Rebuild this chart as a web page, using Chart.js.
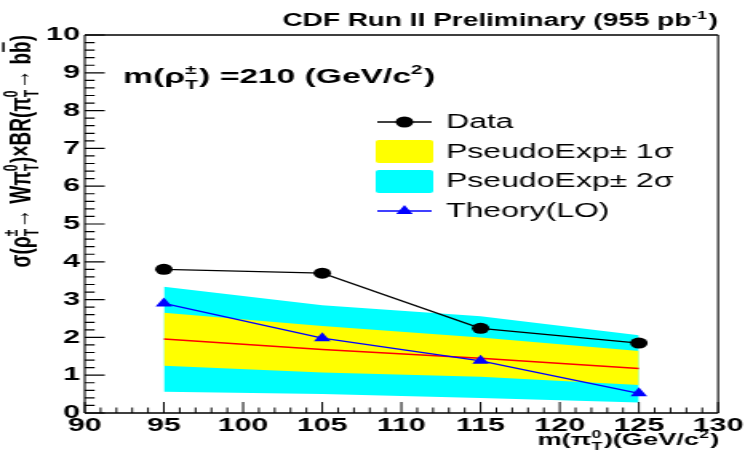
<!DOCTYPE html>
<html>
<head>
<meta charset="utf-8">
<script src="https://cdn.jsdelivr.net/npm/chart.js@4.4.1/dist/chart.umd.min.js"></script>
<style>
  html, body { margin: 0; padding: 0; background: #fff; }
</style>
</head>
<body>
<!-- drawn at 466px wide and shown stretched to 745px, like the ROOT picture -->
<canvas id="limitChart" width="466" height="457" style="display:block;width:745px;height:457px"></canvas>
<script>
// values
const massPoints = [95, 105, 115, 125];
const dataXsec = [3.80, 3.70, 2.24, 1.85];
const theoryXsec = [2.90, 1.98, 1.38, 0.52];
const expMedian = [1.96, 1.68, 1.45, 1.18];
const exp1Up = [2.65, 2.30, 2.00, 1.64];
const exp1Down = [1.25, 1.07, 0.96, 0.74];
const exp2Up = [3.34, 2.85, 2.56, 2.06];
const exp2Down = [0.56, 0.50, 0.40, 0.28];
const xTicks = [90, 95, 100, 105, 110, 115, 120, 125, 130];
const yTicks = [0, 1, 2, 3, 4, 5, 6, 7, 8, 9, 10];

const FONT = '"Liberation Sans", Arial, sans-serif';

function points(values) {
    return massPoints.map((m, i) => ({x: m, y: values[i]}));
}

// draw text with ROOT-like super/subscripts
function drawRich(ctx, parts, x, y, size, weight, align) {
    const small = Math.round(size * 0.62);
    const font = (s) => `${weight} ${s}px ${FONT}`;
    const widthOf = (p) => {
        if (typeof p === "string") {
            ctx.font = font(size);
            return ctx.measureText(p).width;
        }
        if (p.bar) {
            ctx.font = font(size);
            return ctx.measureText(p.bar).width;
        }
        ctx.font = font(small);
        const a = p.sup ? ctx.measureText(p.sup).width : 0;
        const b = p.sub ? ctx.measureText(p.sub).width : 0;
        return Math.max(a, b) + 1;
    };
    const total = parts.reduce((acc, p) => acc + widthOf(p), 0);
    let cx = align === "right" ? x - total : (align === "center" ? x - total / 2 : x);
    ctx.textAlign = "left";
    ctx.textBaseline = "alphabetic";
    parts.forEach((p) => {
        const w = widthOf(p);
        if (typeof p === "string") {
            ctx.font = font(size);
            ctx.fillText(p, cx, y);
        } else if (p.bar) {
            ctx.font = font(size);
            ctx.fillText(p.bar, cx, y);
            ctx.fillRect(cx + 1, y - size * 0.9, w - 2, 1.5);
        } else {
            ctx.font = font(small);
            if (p.sup) ctx.fillText(p.sup, cx, y - size * 0.42);
            if (p.sub) ctx.fillText(p.sub, cx, y + size * 0.28);
        }
        cx += w;
    });
}

const rootStyle = {
    id: "rootStyle",
    afterDraw(chart) {
        const ctx = chart.ctx;
        const area = chart.chartArea;
        const xs = chart.scales.x;
        const ys = chart.scales.y;
        ctx.save();
        ctx.fillStyle = "#000";
        ctx.strokeStyle = "#000";

        // frame: horizontal and vertical edges separately, the canvas is stretched
        ctx.lineWidth = 1.5;
        ctx.beginPath();
        ctx.moveTo(area.left, area.top);
        ctx.lineTo(area.right, area.top);
        ctx.moveTo(area.left, area.bottom);
        ctx.lineTo(area.right, area.bottom);
        ctx.stroke();
        ctx.lineWidth = 1.1;
        ctx.beginPath();
        ctx.moveTo(area.left, area.top);
        ctx.lineTo(area.left, area.bottom);
        ctx.moveTo(area.right, area.top);
        ctx.lineTo(area.right, area.bottom);
        ctx.stroke();

        // inside tick marks on the bottom and left axes
        ctx.lineWidth = 1;
        ctx.beginPath();
        for (let v = 90; v <= 130; v++) {
            const px = xs.getPixelForValue(v);
            const len = v % 5 === 0 ? 11 : 5.5;
            ctx.moveTo(px, area.bottom);
            ctx.lineTo(px, area.bottom - len);
        }
        ctx.stroke();
        ctx.lineWidth = 1.2;
        ctx.beginPath();
        for (let i = 0; i <= 50; i++) {
            const py = ys.getPixelForValue(i * 0.2);
            const len = i % 5 === 0 ? 12.5 : 6.2;
            ctx.moveTo(area.left, py);
            ctx.lineTo(area.left + len, py);
        }
        ctx.stroke();

        // title and labels
        drawRich(ctx, ["CDF Run II Preliminary (955 pb", {sup: "-1"}, ")"], 449, 26, 17.5, "bold", "right");
        drawRich(ctx, ["m(ρ", {sup: "±", sub: "T"}, ") =210 (GeV/c", {sup: "2"}, ")"], 77, 83, 21, "bold", "left");
        drawRich(ctx, ["m(π", {sup: "0", sub: "T"}, ")(GeV/c", {sup: "2"}, ")"], 450, 445, 17, "bold", "right");

        ctx.save();
        ctx.translate(18.5, 35);
        ctx.rotate(-Math.PI / 2);
        drawRich(ctx, ["σ(ρ", {sup: "±", sub: "T"}, "→ Wπ", {sup: "0", sub: "T"}, ")×BR(π",
            {sup: "0", sub: "T"}, "→ b", {bar: "b"}, ")"], 0, 0, 19, "bold", "right");
        ctx.restore();

        // legend
        const lx0 = 236, lx1 = 270, lmid = 253, tx = 279;
        ctx.lineWidth = 1.3;
        ctx.beginPath();
        ctx.moveTo(lx0, 122);
        ctx.lineTo(lx1, 122);
        ctx.stroke();
        ctx.beginPath();
        ctx.arc(lmid, 122, 5.5, 0, Math.PI * 2);
        ctx.fill();

        ctx.fillStyle = "#ffff00";
        ctx.beginPath();
        ctx.roundRect(235, 140, 36, 23, 2);
        ctx.fill();
        ctx.fillStyle = "#00ffff";
        ctx.beginPath();
        ctx.roundRect(235, 170, 36, 23, 2);
        ctx.fill();

        ctx.strokeStyle = "#0000ff";
        ctx.fillStyle = "#0000ff";
        ctx.beginPath();
        ctx.moveTo(lx0, 211);
        ctx.lineTo(lx1, 211);
        ctx.stroke();
        ctx.beginPath();
        ctx.moveTo(lmid, 211 - 6);
        ctx.lineTo(lmid + 5.2, 211 + 3);
        ctx.lineTo(lmid - 5.2, 211 + 3);
        ctx.closePath();
        ctx.fill();

        ctx.fillStyle = "#000";
        ctx.font = `20px ${FONT}`;
        ctx.textAlign = "left";
        ctx.textBaseline = "middle";
        ctx.fillText("Data", tx, 122);
        ctx.fillText("PseudoExp± 1σ", tx, 152);
        ctx.fillText("PseudoExp± 2σ", tx, 181);
        ctx.fillText("Theory(LO)", tx, 211);
        ctx.restore();
    }
};

const tickFont = {family: FONT, size: 19, weight: "bold"};

new Chart(document.getElementById("limitChart"), {
    type: "line",
    data: {
        datasets: [
            {
                label: "Data",
                data: points(dataXsec),
                borderColor: "#000",
                borderWidth: 1.2,
                pointRadius: 5.5,
                pointBackgroundColor: "#000",
                pointBorderWidth: 0,
                order: 0,
            },
            {
                label: "Theory(LO)",
                data: points(theoryXsec),
                borderColor: "#0000ff",
                borderWidth: 1.2,
                pointStyle: "triangle",
                pointRadius: 6,
                pointBackgroundColor: "#0000ff",
                pointBorderWidth: 0,
                order: 1,
            },
            {
                label: "Median",
                data: points(expMedian),
                borderColor: "#ff0000",
                borderWidth: 1.5,
                pointRadius: 0,
                order: 2,
            },
            {
                label: "1 sigma up",
                data: points(exp1Up),
                borderWidth: 0,
                borderColor: "rgba(0,0,0,0)",
                backgroundColor: "#ffff00",
                pointRadius: 0,
                fill: 4,
                order: 3,
            },
            {
                label: "1 sigma down",
                data: points(exp1Down),
                borderWidth: 0,
                borderColor: "rgba(0,0,0,0)",
                pointRadius: 0,
                fill: false,
                order: 3,
            },
            {
                label: "2 sigma up",
                data: points(exp2Up),
                borderWidth: 0,
                borderColor: "rgba(0,0,0,0)",
                backgroundColor: "#00ffff",
                pointRadius: 0,
                fill: 6,
                order: 4,
            },
            {
                label: "2 sigma down",
                data: points(exp2Down),
                borderWidth: 0,
                borderColor: "rgba(0,0,0,0)",
                pointRadius: 0,
                fill: false,
                order: 4,
            },
        ],
    },
    options: {
        responsive: false,
        animation: false,
        events: [],
        layout: {padding: {top: 35, right: 13, left: 0, bottom: 0}},
        plugins: {
            legend: {display: false},
            tooltip: {enabled: false},
        },
        scales: {
            x: {
                type: "linear",
                min: 90,
                max: 130,
                grid: {display: false, drawTicks: false},
                border: {display: false},
                afterBuildTicks: (scale) => {
                    scale.ticks = xTicks.map((v) => ({value: v}));
                },
                ticks: {color: "#000", font: tickFont, padding: 1, maxRotation: 0, autoSkip: false},
                afterFit: (scale) => {
                    scale.height = 44;
                },
            },
            y: {
                type: "linear",
                min: 0,
                max: 10,
                grid: {display: false, drawTicks: false},
                border: {display: false},
                afterBuildTicks: (scale) => {
                    scale.ticks = yTicks.map((v) => ({value: v}));
                },
                ticks: {color: "#000", font: tickFont, padding: 3, autoSkip: false},
                afterFit: (scale) => {
                    scale.width = 53;
                },
            },
        },
    },
    plugins: [rootStyle],
});
</script>
</body>
</html>
